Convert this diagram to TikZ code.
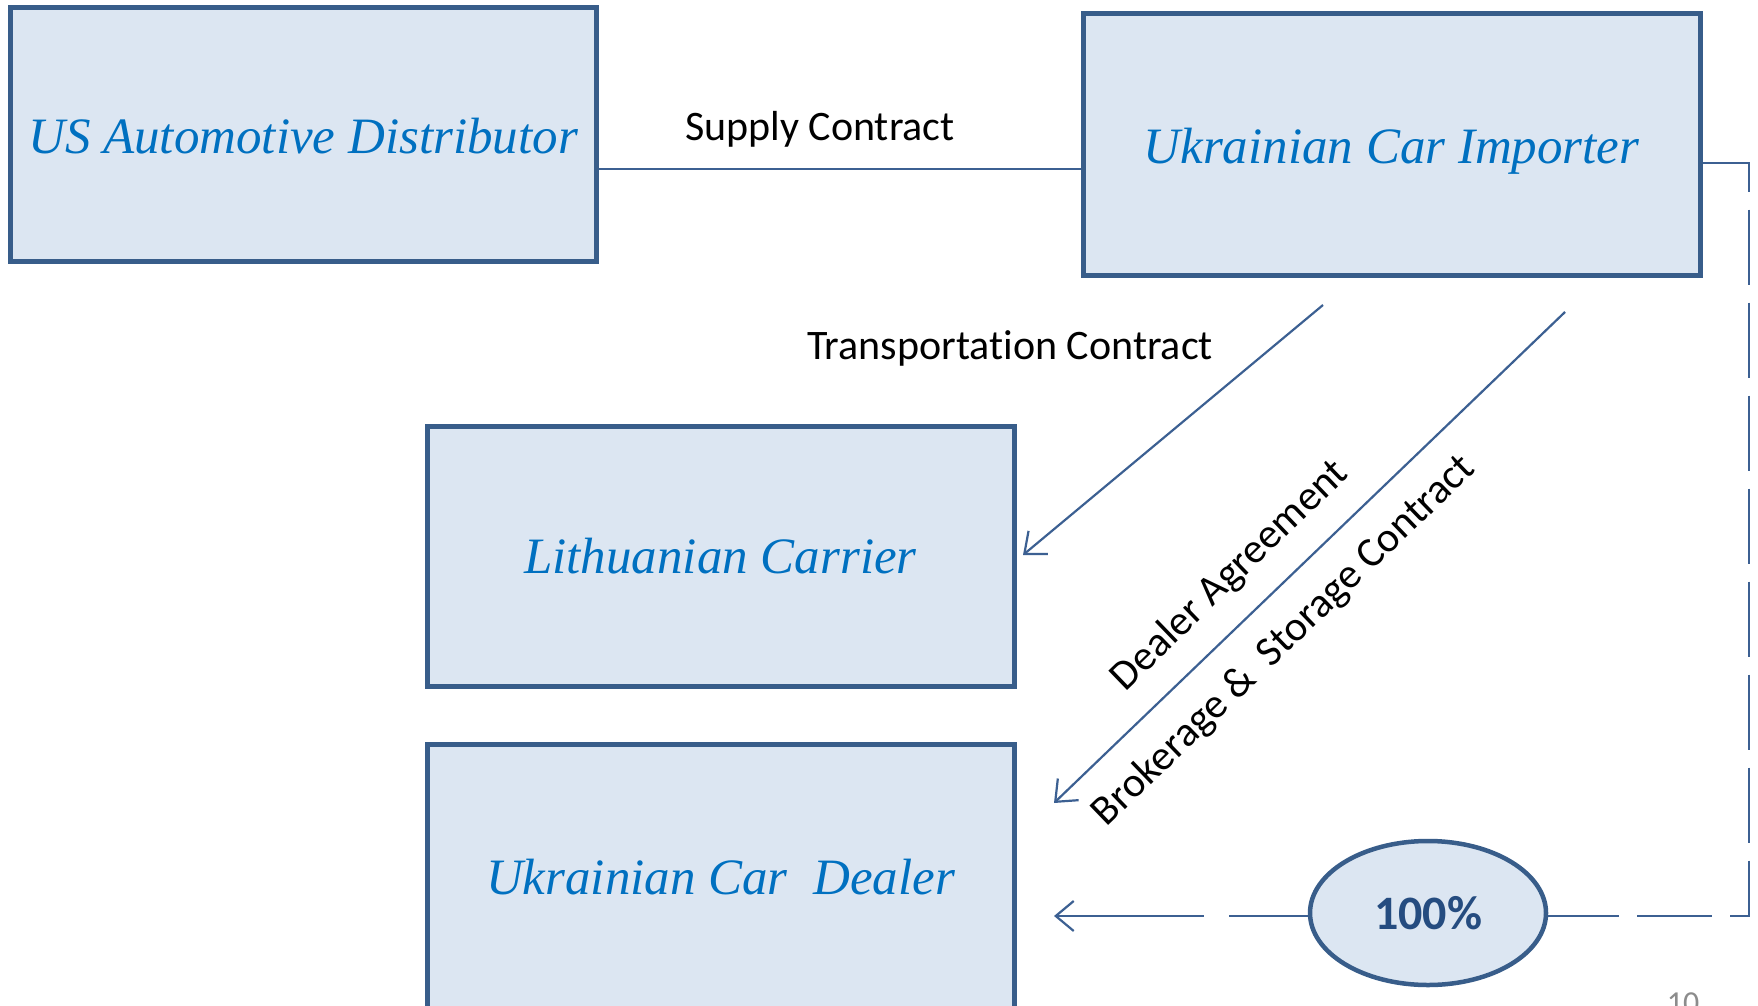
\documentclass[tikz,border=0pt]{standalone}
\usepackage{fontspec}
\setmainfont{Liberation Serif}
\newfontfamily\calibri[Ligatures=NoCommon]{Carlito}
\usetikzlibrary{shapes.geometric,arrows.meta}
\definecolor{boxfill}{HTML}{DCE6F2}
\definecolor{boxline}{HTML}{385D8A}
\definecolor{boxtext}{HTML}{0070C0}
\definecolor{connc}{HTML}{3C6092}
\definecolor{pcttext}{HTML}{254C80}
\definecolor{pagegray}{HTML}{8C8C8C}
\begin{document}
\begin{tikzpicture}[x=1pt,y=-1pt,
  entity/.style={draw=boxline, line width=5pt, fill=boxfill, rectangle, inner sep=0pt,
    font=\fontsize{51}{60}\selectfont\itshape, text=boxtext},
  lbl/.style={font=\calibri\fontsize{42}{50}\selectfont, text=black, inner sep=0pt},
  link/.style={draw=connc, line width=2.2pt},
  tip/.style={-{Straight Barb[length=18pt,width=30pt,line width=2.2pt]}}
]
\useasboundingbox (0,0) rectangle (1758,1006);
\clip (0,0) rectangle (1758,1006);
\fill[white] (0,0) rectangle (1758,1006);

\node[entity, minimum width=586pt, minimum height=253pt] (usd) at (303,134.5) {\raisebox{-2pt}[\height][\depth]{US Automotive Distributor}};
\node[entity, minimum width=617pt, minimum height=261pt] (uci) at (1391.5,144.5) {\raisebox{-7pt}[\height][\depth]{Ukrainian Car Importer}};
\node[entity, minimum width=587pt, minimum height=260pt] (lc) at (720.5,556) {Lithuanian Carrier};
\node[entity, minimum width=587pt, minimum height=266pt] (ucd) at (720.5,877) {Ukrainian Car\ \ Dealer};

\node[ellipse, draw=boxline, line width=4.5pt, fill=boxfill, minimum width=236pt, minimum height=144pt,
  inner sep=0pt, font=\calibri\bfseries\fontsize{48}{58}\selectfont, text=pcttext] (pct) at (1428,913) {100\%};

\draw[link] ([yshift=-34.5pt]usd.east) -- ([yshift=-34.5pt]usd.east -| uci.west);
\node[lbl] (supply) at (820,129) {Supply Contract};
\node[lbl] (transp) at (1010,348) {Transportation Contract};
\node[lbl, rotate=44] (dealer) at (1230,576) {Dealer Agreement};
\node[lbl, rotate=44] (broker) at (1284,641) {Brokerage \&\ \ Storage Contract};

\coordinate (a1s) at (1323,305);
\coordinate (a1e) at (1023,555);
\draw[link, tip] (a1s) -- (a1e);
\coordinate (a2s) at (1565,312);
\coordinate (a2e) at (1054,803);
\draw[link, tip] (a2s) -- (a2e);

\coordinate (c1) at (1749,163);
\coordinate (c2) at (1749,916);
\draw[link, dash pattern=on 75pt off 18pt] (uci.east |- c1) -- (c1) -- (c2) -- (pct.east |- c2);
\coordinate (dtip) at (1054,916);
\draw[link, dash pattern=on 79pt off 25pt on 400pt, tip] (pct.west |- dtip) -- (dtip);

\node[font=\calibri\fontsize{32}{38}\selectfont, text=pagegray, anchor=base, inner sep=0pt] (pg) at (1683,1013) {10};
\end{tikzpicture}
\end{document}
